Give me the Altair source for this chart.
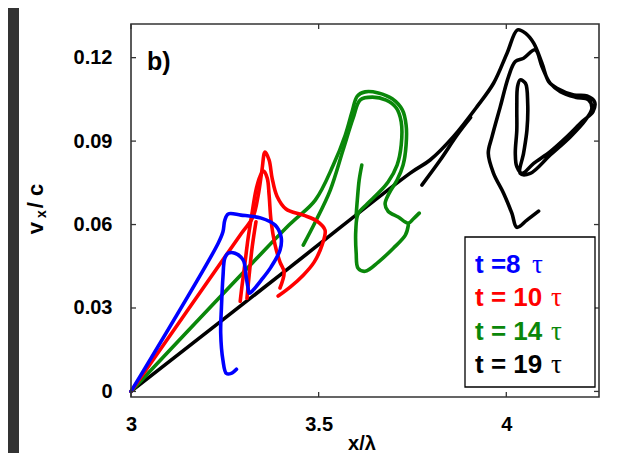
import altair as alt
import pandas as pd

# ---------------- data (x in units of lambda, y = v_x / c) ----------------
black_main_x = [3.000, 3.424, 3.744, 3.797, 3.859, 3.922, 3.966, 4.002, 4.030, 4.051, 4.073, 4.095,
                4.113, 4.135, 4.180, 4.215, 4.235, 4.231, 4.202, 4.162, 4.117, 4.073, 4.042, 4.028,
                4.024, 4.028, 4.028, 4.030, 4.037, 4.051, 4.057, 4.055, 4.046, 4.037, 4.064, 4.117,
                4.171, 4.211, 4.228, 4.219, 4.184, 4.144, 4.117, 4.095, 4.077, 4.046, 4.024, 4.006,
                3.984, 3.962, 3.952, 3.966, 3.993, 4.015, 4.028, 4.055, 4.086]
black_main_y = [0.000, 0.0447, 0.0785, 0.0832, 0.0916, 0.1024, 0.1108, 0.1216, 0.1300, 0.1288, 0.1252, 0.1180,
                0.1114, 0.1090, 0.1066, 0.1062, 0.1042, 0.1006, 0.0970, 0.0916, 0.0862, 0.0820, 0.0784, 0.0808,
                0.0856, 0.0940, 0.1024, 0.1096, 0.1120, 0.1108, 0.1036, 0.0940, 0.0856, 0.0784, 0.0784, 0.0850,
                0.0916, 0.0976, 0.1018, 0.1048, 0.1058, 0.1078, 0.1108, 0.1168, 0.1228, 0.1198, 0.1186, 0.1132,
                0.1024, 0.0916, 0.0856, 0.0784, 0.0712, 0.0640, 0.0590, 0.0616, 0.0648]
black_branch_x = [3.775, 3.824, 3.869, 3.905]
black_branch_y = [0.0742, 0.0832, 0.0922, 0.0985]

green_a_x = [3.000, 3.421, 3.491, 3.539, 3.571, 3.589, 3.603, 3.624, 3.659, 3.696, 3.723, 3.733,
             3.733, 3.725, 3.709, 3.688, 3.677, 3.685, 3.712, 3.739, 3.752, 3.768]
green_a_y = [0.000, 0.0598, 0.0688, 0.0814, 0.0922, 0.1005, 0.1062, 0.1077, 0.1073, 0.1052, 0.1012, 0.0958,
             0.0886, 0.0814, 0.0760, 0.0713, 0.0674, 0.0648, 0.0627, 0.0605, 0.0620, 0.0641]
green_b_x = [3.459, 3.491, 3.531, 3.565, 3.592, 3.611, 3.643, 3.680, 3.707, 3.720, 3.720, 3.709,
             3.685, 3.659, 3.629, 3.605, 3.599, 3.600, 3.605, 3.624, 3.659, 3.699, 3.731, 3.739]
green_b_y = [0.0526, 0.0609, 0.0724, 0.0868, 0.0983, 0.1048, 0.1058, 0.1047, 0.1019, 0.0969, 0.0886, 0.0814,
             0.0753, 0.0713, 0.0674, 0.0638, 0.0580, 0.0497, 0.0443, 0.0432, 0.0465, 0.0515, 0.0562, 0.0598]
green_c_x = [3.615, 3.608, 3.603, 3.600]
green_c_y = [0.0814, 0.0760, 0.0688, 0.0634]

red_a_x = [3.000, 3.294, 3.325, 3.339, 3.349, 3.357, 3.368, 3.376, 3.389, 3.413, 3.459, 3.496,
           3.517, 3.509, 3.488, 3.459, 3.424, 3.392]
red_a_y = [0.000, 0.0568, 0.0627, 0.0706, 0.0796, 0.0861, 0.0832, 0.0767, 0.0702, 0.0656, 0.0634, 0.0612,
           0.0580, 0.0526, 0.0465, 0.0418, 0.0375, 0.0343]
red_b_x = [3.291, 3.296, 3.304, 3.312, 3.323, 3.333, 3.344, 3.353, 3.363, 3.368, 3.373, 3.384,
           3.397, 3.408, 3.397]
red_b_y = [0.0324, 0.0382, 0.0465, 0.0551, 0.0645, 0.0724, 0.0774, 0.0792, 0.0767, 0.0706, 0.0616, 0.0526,
           0.0465, 0.0429, 0.0372]
red_c_x = [3.309, 3.315, 3.323, 3.333]
red_c_y = [0.0335, 0.0420, 0.0520, 0.0610]

blue_x = [3.000, 3.232, 3.245, 3.250, 3.259, 3.293, 3.347, 3.384, 3.400, 3.397, 3.373, 3.347,
          3.325, 3.315, 3.312, 3.307, 3.299, 3.277, 3.259, 3.250, 3.245, 3.241, 3.239, 3.245,
          3.254, 3.267, 3.281]
blue_y = [0.000, 0.0532, 0.0574, 0.0616, 0.0638, 0.0634, 0.0623, 0.0598, 0.0555, 0.0508, 0.0447, 0.0400,
          0.0364, 0.0353, 0.0371, 0.0411, 0.0472, 0.0497, 0.0497, 0.0479, 0.0411, 0.0303, 0.0209, 0.0112,
          0.0065, 0.0065, 0.0080]

x_ticks = [3, 3.5, 4]
y_ticks = [0, 0.03, 0.06, 0.09, 0.12]
x_domain = [3.0, 4.247]
y_domain = [-0.002, 0.1321]

legend_labels = ["t =8", "t = 10", "t = 14", "t = 19"]
series_colors = ["#0000ff", "#ff0000", "#0a870a", "#000000"]

# ---------------- layout ----------------
W, H = 468, 373
FONT = "Liberation Sans"
xs = alt.Scale(domain=x_domain, nice=False, zero=False)
ys = alt.Scale(domain=y_domain, nice=False, zero=False)
x_axis = alt.Axis(values=x_ticks, labelExpr="'' + datum.value", title="", ticks=False, domain=False,
                  grid=False, labelFont=FONT, labelFontWeight="bold", labelFontSize=20,
                  labelColor="#000", labelPadding=17, labelFlush=False, labelOverlap=False, zindex=1)
y_axis = alt.Axis(values=y_ticks, labelExpr="'' + datum.value", title="", ticks=False, domain=False,
                  grid=False, labelFont=FONT, labelFontWeight="bold", labelFontSize=20,
                  labelColor="#000", labelPadding=19, labelFlush=False, labelOverlap=False, zindex=1)


def seg_df(segs):
    rows = []
    for k, (xx, yy) in enumerate(segs):
        for i, (a, b) in enumerate(zip(xx, yy)):
            rows.append({"seg": k, "i": i, "x": a, "y": b})
    return pd.DataFrame(rows)


one = pd.DataFrame({"a": [0]})
layers = []

# dark strip at the left edge of the page
layers.append(alt.Chart(one).mark_rect(color="#333333").encode(
    x=alt.value(-124), x2=alt.value(-112), y=alt.value(-17), y2=alt.value(430)))

series = [
    ([(black_main_x, black_main_y), (black_branch_x, black_branch_y)], series_colors[3]),
    ([(green_a_x, green_a_y), (green_b_x, green_b_y), (green_c_x, green_c_y)], series_colors[2]),
    ([(red_a_x, red_a_y), (red_b_x, red_b_y), (red_c_x, red_c_y)], series_colors[1]),
    ([(blue_x, blue_y)], series_colors[0]),
]

for segs, col in series:
    layers.append(alt.Chart(seg_df(segs)).mark_line(
        color=col, strokeWidth=3.6, strokeCap="round", strokeJoin="round",
        interpolate="catmull-rom").encode(
        x=alt.X("x:Q", scale=xs, axis=x_axis), y=alt.Y("y:Q", scale=ys, axis=y_axis),
        detail="seg:N", order="i:Q"))

# inward ticks on all four sides
xt = pd.DataFrame({"x": x_ticks})
yt = pd.DataFrame({"y": y_ticks})
tick_style = dict(color="#333", strokeWidth=1.3)
layers.append(alt.Chart(xt).mark_rule(**tick_style).encode(
    x=alt.X("x:Q", scale=xs, axis=x_axis), y=alt.value(H), y2=alt.value(H - 5)))
layers.append(alt.Chart(xt).mark_rule(**tick_style).encode(
    x=alt.X("x:Q", scale=xs, axis=x_axis), y=alt.value(0), y2=alt.value(5)))
layers.append(alt.Chart(yt).mark_rule(**tick_style).encode(
    y=alt.Y("y:Q", scale=ys, axis=y_axis), x=alt.value(0), x2=alt.value(5)))
layers.append(alt.Chart(yt).mark_rule(**tick_style).encode(
    y=alt.Y("y:Q", scale=ys, axis=y_axis), x=alt.value(W), x2=alt.value(W - 5)))

# frame
layers.append(alt.Chart(one).mark_rect(fillOpacity=0, stroke="#333", strokeWidth=1.6).encode(
    x=alt.value(0), x2=alt.value(W), y=alt.value(0), y2=alt.value(H)))

# panel label
layers.append(alt.Chart(pd.DataFrame({"t": ["b)"]})).mark_text(
    font=FONT, fontWeight="bold", fontSize=25, align="left", baseline="middle", color="#000").encode(
    x=alt.value(16), y=alt.value(38), text="t:N"))

# axis titles
layers.append(alt.Chart(pd.DataFrame({"t": ["x/λ"]})).mark_text(
    font=FONT, fontWeight="bold", fontSize=20, align="center", baseline="alphabetic", color="#000").encode(
    x=alt.value(231), y=alt.value(426), text="t:N"))
for txt, px, py, fs in [("v", -95, 204, 22), ("x", -89, 190, 14), ("/ c", -95, 172, 22)]:
    layers.append(alt.Chart(pd.DataFrame({"t": [txt]})).mark_text(
        font=FONT, fontWeight="bold", fontSize=fs, align="center", baseline="middle",
        angle=270, color="#000").encode(x=alt.value(px), y=alt.value(py), text="t:N"))

# legend box
layers.append(alt.Chart(one).mark_rect(fill="white", stroke="#000", strokeWidth=1.3).encode(
    x=alt.value(334), x2=alt.value(464), y=alt.value(213), y2=alt.value(363)))
row_y = [241, 274, 307.5, 340.5]
tau_x = [401, 420, 420, 420]
for k in range(4):
    layers.append(alt.Chart(pd.DataFrame({"t": [legend_labels[k]]})).mark_text(
        font=FONT, fontWeight="bold", fontSize=26, align="left", baseline="middle",
        color=series_colors[k]).encode(x=alt.value(344), y=alt.value(row_y[k]), text="t:N"))
    layers.append(alt.Chart(pd.DataFrame({"t": ["τ"]})).mark_text(
        font="Liberation Serif", fontSize=27, align="left", baseline="middle",
        color=series_colors[k]).encode(x=alt.value(tau_x[k]), y=alt.value(row_y[k]), text="t:N"))

chart = alt.layer(*layers).properties(
    width=W, height=H,
    padding={"left": 123, "top": 16, "right": 17, "bottom": 56},
    autosize=alt.AutoSizeParams(type="none"),
    background="white",
).configure_view(strokeWidth=0)

chart.save("out.html", embed_options={"renderer": "svg", "actions": False})
